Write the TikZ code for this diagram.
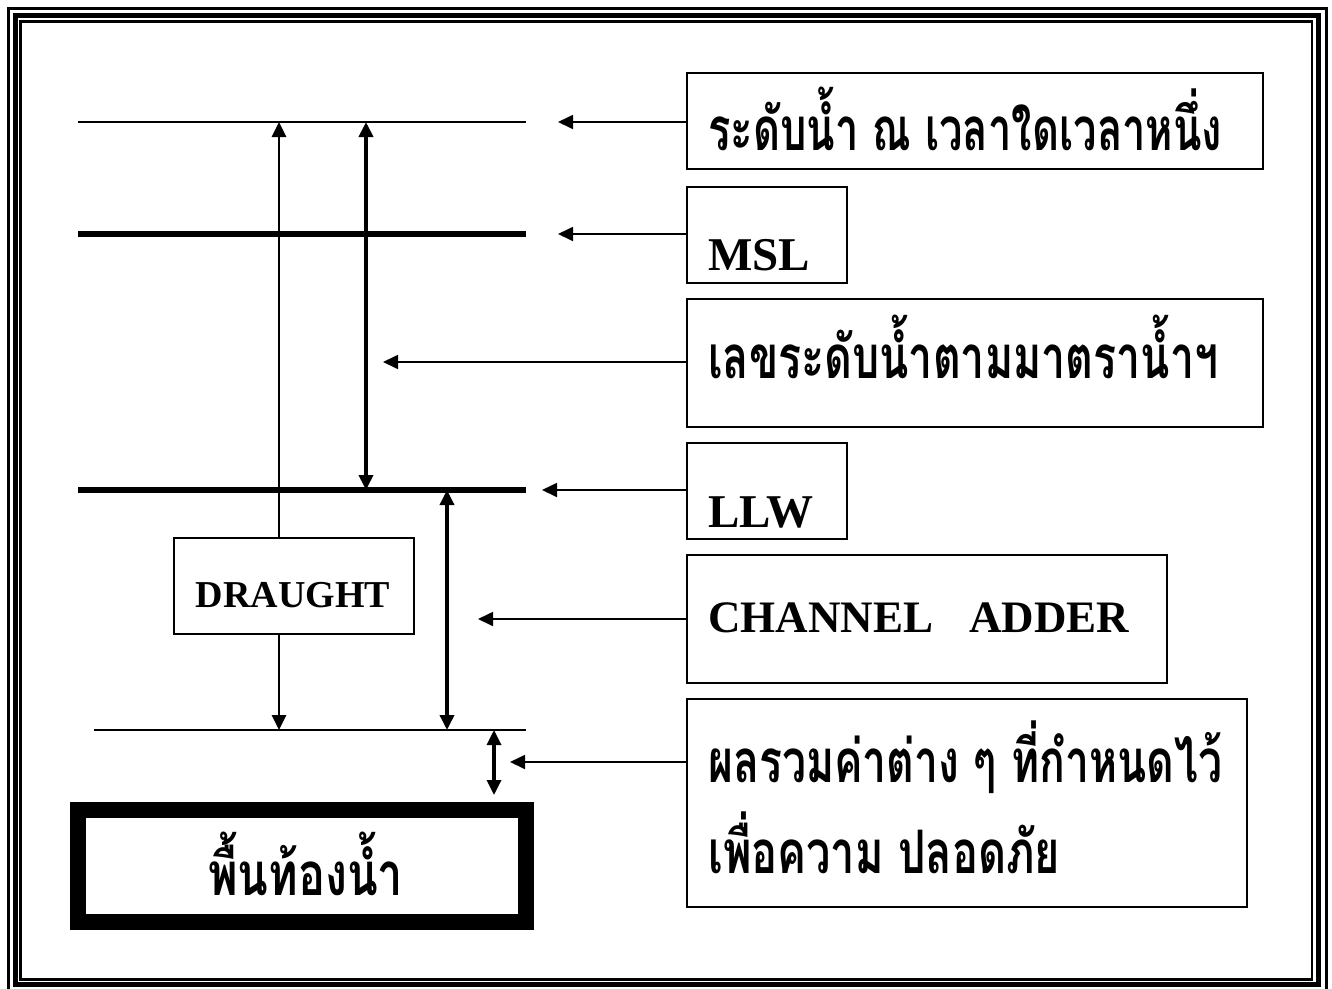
\documentclass[tikz,border=0pt]{standalone}
\usepackage{fontspec}
\setmainfont{Liberation Serif}
\newfontfamily\thai[Script=Thai]{Loma}
\usetikzlibrary{arrows.meta}
\newcommand\fitw[2]{\resizebox{#1}{\height}{#2}}
\begin{document}
\begin{tikzpicture}[x=1pt,y=-1pt,
  tip/.style={-{Triangle[length=15pt,width=14pt]}},
  tiptwo/.style={{Triangle[length=15pt,width=14pt]}-{Triangle[length=15pt,width=14pt]}},
  lbox/.style={draw,line width=2pt,minimum width=#1,inner sep=0pt},
  lbox/.default={160pt},
  thaitxt/.style={anchor=base west,inner sep=0pt,font=\thai\bfseries\fontsize{60}{60}\selectfont},
  latxt/.style={anchor=base west,inner sep=0pt,font=\bfseries\fontsize{47}{47}\selectfont},
  ptr/.style={tip,line width=1.7pt},
]
\useasboundingbox (0,0) rectangle (1332,988);
% frame
\draw[line width=3pt] (8.5,8.5) rectangle (1326,992);
\draw[line width=5pt] (15,15) rectangle (1318.5,984.5);
\draw[line width=2.5pt] (20.5,21.5) rectangle (1312,979.5);

% levels
\coordinate (l1a) at (78,122); \coordinate (l1b) at (526,122);
\coordinate (l2a) at (78,234); \coordinate (l2b) at (526,234);
\coordinate (l3a) at (78,490); \coordinate (l3b) at (526,490);
\coordinate (l4a) at (94,730); \coordinate (l4b) at (526,730);
\draw[line width=1.5pt] (l1a) -- (l1b);
\draw[line width=6pt] (l2a) -- (l2b);
\draw[line width=6pt] (l3a) -- (l3b);
\draw[line width=2.7pt] (l4a) -- (l4b);

% draught box
\node[draw,line width=1.5pt,minimum width=240pt,minimum height=96pt,inner sep=0pt] (dr) at (294,586) {};
\node[anchor=base,inner sep=0pt,font=\bfseries\fontsize{38}{38}\selectfont] (drt) at (293,607) {DRAUGHT};

% bottom
\node[draw,line width=16pt,minimum width=448pt,minimum height=112pt,inner sep=0pt] (bed) at (302,866) {};
\node[thaitxt,anchor=base] (bedt) at (305.5,895) {\fitw{195pt}{พื้นท้องน้ำ}};

% vertical arrows
\coordinate (a1t) at (279,122); \coordinate (a1b) at (279,730);
\draw[tip,line width=2.7pt] (dr.north -| a1t) -- (a1t);
\draw[tip,line width=2.7pt] (dr.south -| a1b) -- (a1b);
\coordinate (a2t) at (366,122); \coordinate (a2b) at (366,490);
\draw[tiptwo,line width=3.8pt] (a2t) -- (a2b);
\coordinate (a3t) at (447,490); \coordinate (a3b) at (447,730);
\draw[tiptwo,line width=3.5pt] (a3t) -- (a3b);
\coordinate (a4t) at (494,730); \coordinate (a4b) at (494,795);
\draw[tiptwo,line width=3.3pt] (a4t) -- (a4b);

% label boxes
\node[lbox=576pt,minimum height=96pt,anchor=north west] (b1) at (686,72) {};
\node[lbox=160pt,minimum height=96pt,anchor=north west] (b2) at (686,186) {};
\node[lbox=576pt,minimum height=128pt,anchor=north west] (b3) at (686,298) {};
\node[lbox=160pt,minimum height=96pt,anchor=north west] (b4) at (686,442) {};
\node[lbox=480pt,minimum height=128pt,anchor=north west] (b5) at (686,554) {};
\node[lbox=560pt,minimum height=208pt,anchor=north west] (b6) at (686,698) {};

\node[thaitxt] (t1) at (708,150) {\fitw{514pt}{ระดับน้ำ ณ เวลาใดเวลาหนึ่ง}};
\node[latxt] (t2) at (708,270) {MSL};
\node[thaitxt] (t3) at (708,378) {\fitw{510pt}{เลขระดับน้ำตามมาตราน้ำฯ}};
\node[latxt] (t4) at (708,527) {LLW};
\node[latxt,font=\bfseries\fontsize{45}{45}\selectfont] (t5) at (708,632) {CHANNEL\hspace{36pt}ADDER};
\node[thaitxt] (t6a) at (708,782) {\fitw{514pt}{ผลรวมค่าต่าง ๆ ที่กำหนดไว้}};
\node[thaitxt] (t6b) at (708,873) {\fitw{352pt}{เพื่อความ ปลอดภัย}};

% pointers
\coordinate (p1) at (558,122);
\coordinate (p2) at (558,234);
\coordinate (p3) at (383,362);
\coordinate (p4) at (542,490);
\coordinate (p5) at (478,619);
\coordinate (p6) at (510,762);
\draw[ptr] (b1.west |- p1) -- (p1);
\draw[ptr] (b2.west |- p2) -- (p2);
\draw[ptr] (b3.west |- p3) -- (p3);
\draw[ptr] (b4.west |- p4) -- (p4);
\draw[ptr] (b5.west |- p5) -- (p5);
\draw[ptr] (b6.west |- p6) -- (p6);
\end{tikzpicture}
\end{document}
